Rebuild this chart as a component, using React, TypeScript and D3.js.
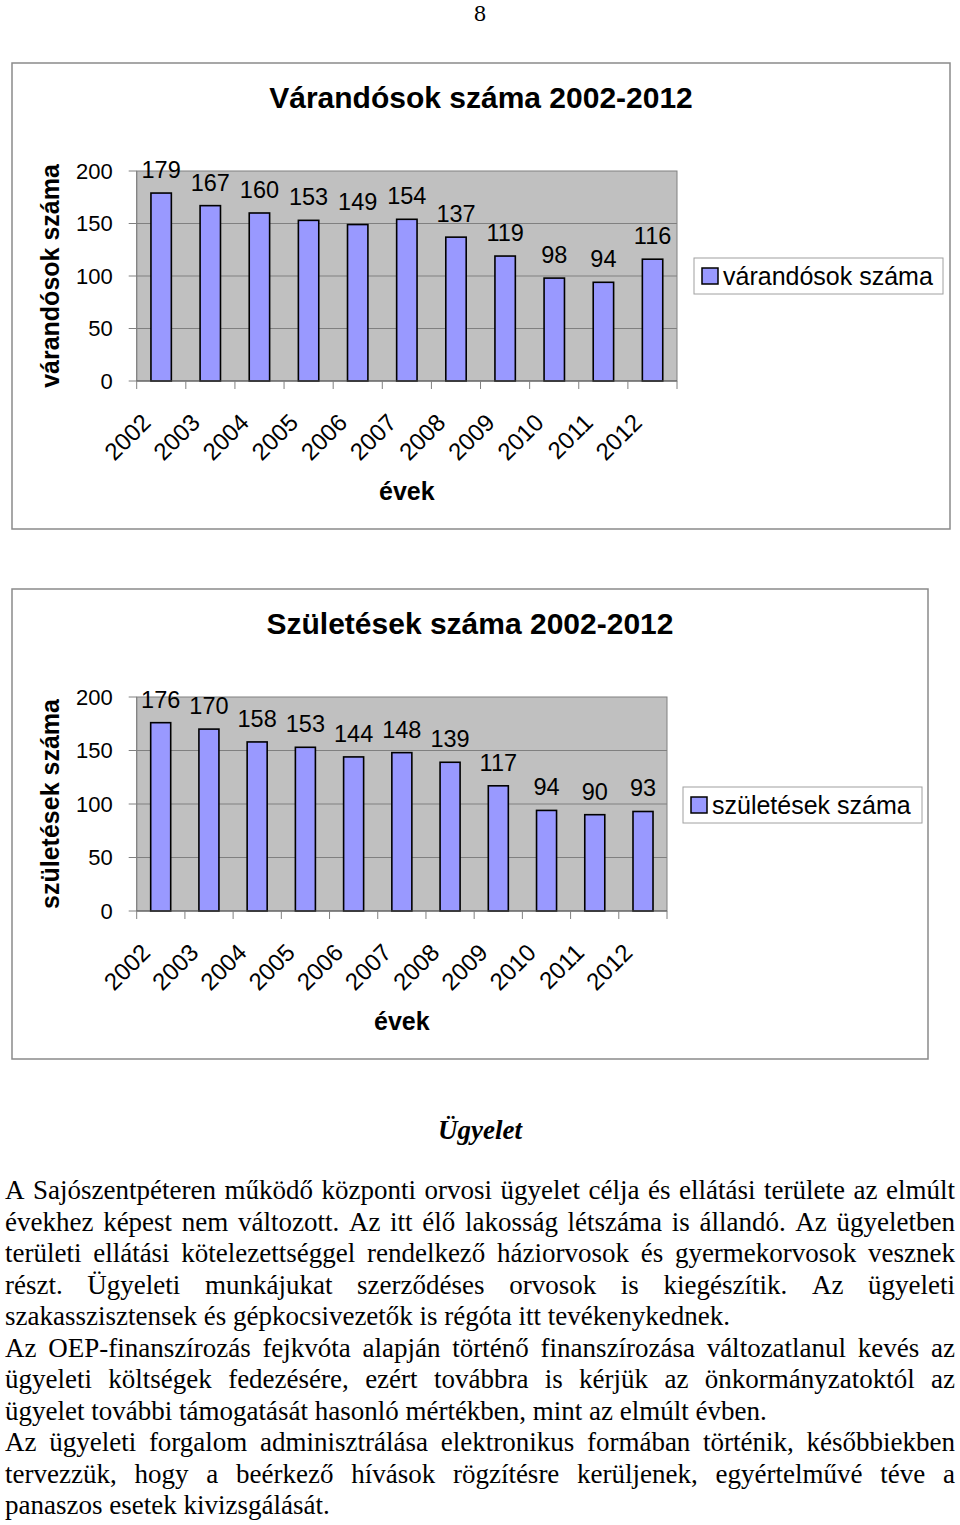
import React from "react";
import * as d3 from "d3";

const years = ["2002","2003","2004","2005","2006","2007","2008","2009","2010","2011","2012"];
const varandosok = [179,167,160,153,149,154,137,119,98,94,116];
const szuletesek = [176,170,158,153,144,148,139,117,94,90,93];
const yTicks = [0,50,100,150,200];

const paragraphs: string[][] = [
  [
    "A Sajószentpéteren működő központi orvosi ügyelet célja és ellátási területe az elmúlt",
    "évekhez képest nem változott. Az itt élő lakosság létszáma is állandó. Az ügyeletben",
    "területi ellátási kötelezettséggel rendelkező háziorvosok és gyermekorvosok vesznek",
    "részt. Ügyeleti munkájukat szerződéses orvosok is kiegészítik. Az ügyeleti",
    "szakasszisztensek és gépkocsivezetők is régóta itt tevékenykednek.",
  ],
  [
    "Az OEP-finanszírozás fejkvóta alapján történő finanszírozása változatlanul kevés az",
    "ügyeleti költségek fedezésére, ezért továbbra is kérjük az önkormányzatoktól az",
    "ügyelet további támogatását hasonló mértékben, mint az elmúlt évben.",
  ],
  [
    "Az ügyeleti forgalom adminisztrálása elektronikus formában történik, későbbiekben",
    "tervezzük, hogy a beérkező hívások rögzítésre kerüljenek, egyértelművé téve a",
    "panaszos esetek kivizsgálását.",
  ],
];

const SANS = "'Liberation Sans', Arial, sans-serif";
const SERIF = "'Liberation Serif', 'Times New Roman', serif";
const BAR = "#9999FF";
const PLOT_BG = "#C0C0C0";
const GRID = "#808080";

let ctx: CanvasRenderingContext2D | null = null;
function measure(text: string, font: string): number {
  if (!ctx) {
    const c = document.createElement("canvas");
    ctx = c.getContext("2d");
  }
  if (!ctx) return text.length * 12;
  ctx.font = font;
  return ctx.measureText(text).width;
}

type ChartProps = {
  box: { x0: number; y0: number; x1: number; y1: number };
  plot: { left: number; right: number; top: number; bottom: number };
  title: string;
  yTitle: string;
  legend: string;
  legendBox: { x0: number; y0: number; x1: number; y1: number };
  values: number[];
};

function BarChart(p: ChartProps) {
  const x = d3.scaleBand<string>().domain(years).range([p.plot.left, p.plot.right]).paddingInner(0.585).paddingOuter(0.29);
  const band = d3.scaleBand<string>().domain(years).range([p.plot.left, p.plot.right]);
  const y = d3.scaleLinear().domain([0, 200]).range([p.plot.bottom, p.plot.top]);
  const cx = (p.box.x0 + p.box.x1) / 2;
  const plotCx = (p.plot.left + p.plot.right) / 2;
  const plotCy = (p.plot.top + p.plot.bottom) / 2;
  const lb = p.legendBox;
  const lcy = (lb.y0 + lb.y1) / 2;
  return (
    <g>
      <rect x={p.box.x0} y={p.box.y0} width={p.box.x1 - p.box.x0} height={p.box.y1 - p.box.y0} fill="#fff" stroke="#8a8a8a" strokeWidth={1.5} />
      <text x={cx} y={p.box.y0 + 45} textAnchor="middle" fontFamily={SANS} fontWeight="bold" fontSize={30} fill="#000">{p.title}</text>
      <rect x={p.plot.left} y={p.plot.top} width={p.plot.right - p.plot.left} height={p.plot.bottom - p.plot.top} fill={PLOT_BG} stroke={GRID} strokeWidth={1} />
      {yTicks.map((t) => (
        <g key={t}>
          {t > 0 && t < 200 && <line x1={p.plot.left} x2={p.plot.right} y1={y(t)} y2={y(t)} stroke={GRID} strokeWidth={1} />}
          <line x1={p.plot.left - 8} x2={p.plot.left} y1={y(t)} y2={y(t)} stroke={GRID} strokeWidth={1} />
          <text x={p.plot.left - 24} y={y(t)} dy="0.36em" textAnchor="end" fontFamily={SANS} fontSize={22} fill="#000">{t}</text>
        </g>
      ))}
      <line x1={p.plot.left} x2={p.plot.left} y1={p.plot.top} y2={p.plot.bottom} stroke={GRID} strokeWidth={1} />
      {years.map((yr, i) => (
        <g key={yr}>
          <rect x={x(yr)} y={y(p.values[i])} width={x.bandwidth()} height={y(0) - y(p.values[i])} fill={BAR} stroke="#000" strokeWidth={1.6} />
          <text x={(x(yr) as number) + x.bandwidth() / 2} y={y(p.values[i]) - 15} textAnchor="middle" fontFamily={SANS} fontSize={23.5} fill="#000">{p.values[i]}</text>
        </g>
      ))}
      <line x1={p.plot.left} x2={p.plot.right} y1={p.plot.bottom} y2={p.plot.bottom} stroke="#555" strokeWidth={1.2} />
      {years.concat(["end"]).map((yr, i) => {
        const bx = p.plot.left + i * band.step();
        return <line key={"t" + i} x1={bx} x2={bx} y1={p.plot.bottom} y2={p.plot.bottom + 8} stroke={GRID} strokeWidth={1} />;
      })}
      {years.map((yr) => {
        const c = (band(yr) as number) + band.bandwidth() / 2;
        const ax = c - 9;
        const ay = p.plot.bottom + 43;
        return (
          <text key={"l" + yr} x={ax} y={ay} transform={`rotate(-45 ${ax} ${ay})`} textAnchor="end" fontFamily={SANS} fontSize={24} fill="#000">{yr}</text>
        );
      })}
      <text x={plotCx} y={p.plot.bottom + 119} textAnchor="middle" fontFamily={SANS} fontWeight="bold" fontSize={25} fill="#000">évek</text>
      <text x={59} y={plotCy} transform={`rotate(-90 59 ${plotCy})`} textAnchor="middle" fontFamily={SANS} fontWeight="bold" fontSize={25} fill="#000">{p.yTitle}</text>
      <rect x={lb.x0} y={lb.y0} width={lb.x1 - lb.x0} height={lb.y1 - lb.y0} fill="#fff" stroke="#a0a0a0" strokeWidth={1} />
      <rect x={lb.x0 + 8} y={lcy - 8} width={16} height={16} fill={BAR} stroke="#000" strokeWidth={1.5} />
      <text x={lb.x0 + 29} y={lcy} dy="0.36em" fontFamily={SANS} fontSize={25} fill="#000">{p.legend}</text>
    </g>
  );
}

function Paragraphs() {
  const fs = 27;
  const font = `${fs}px 'Liberation Serif'`;
  const left = 5;
  const right = 955;
  const lh = 31.5;
  let baseline = 1199;
  const out: React.ReactNode[] = [];
  paragraphs.forEach((lines, pi) => {
    lines.forEach((line, li) => {
      const last = li === lines.length - 1;
      const words = line.split(" ");
      const y0 = baseline;
      if (last || words.length < 2) {
        out.push(<text key={`${pi}-${li}`} x={left} y={y0} fontFamily={SERIF} fontSize={fs} fill="#000">{line}</text>);
      } else {
        const widths = words.map((w) => measure(w, font));
        const total = widths.reduce((a, b) => a + b, 0);
        const gap = (right - left - total) / (words.length - 1);
        let cx = left;
        words.forEach((w, wi) => {
          out.push(<text key={`${pi}-${li}-${wi}`} x={cx} y={y0} fontFamily={SERIF} fontSize={fs} fill="#000">{w}</text>);
          cx += widths[wi] + gap;
        });
      }
      baseline += lh;
    });
  });
  return <g>{out}</g>;
}

export default function App() {
  return (
    <svg width={960} height={1525} viewBox="0 0 960 1525" style={{ position: "absolute", left: 0, top: 0, background: "#fff" }}>
      <rect x={0} y={0} width={960} height={1525} fill="#fff" />
      <text x={480} y={21} textAnchor="middle" fontFamily={SERIF} fontSize={24} fill="#000">8</text>
      <BarChart
        box={{ x0: 12, y0: 63, x1: 950, y1: 529 }}
        plot={{ left: 136.7, right: 677, top: 171, bottom: 381 }}
        title="Várandósok száma 2002-2012"
        yTitle="várandósok száma"
        legend="várandósok száma"
        legendBox={{ x0: 694, y0: 258, x1: 943, y1: 294 }}
        values={varandosok}
      />
      <BarChart
        box={{ x0: 12, y0: 589, x1: 928, y1: 1059 }}
        plot={{ left: 136.7, right: 667, top: 697, bottom: 911 }}
        title="Születések száma 2002-2012"
        yTitle="születések száma"
        legend="születések száma"
        legendBox={{ x0: 683, y0: 787, x1: 922, y1: 823 }}
        values={szuletesek}
      />
      <text x={480} y={1139} textAnchor="middle" fontFamily={SERIF} fontStyle="italic" fontWeight="bold" fontSize={27} fill="#000">Ügyelet</text>
      <Paragraphs />
    </svg>
  );
}
